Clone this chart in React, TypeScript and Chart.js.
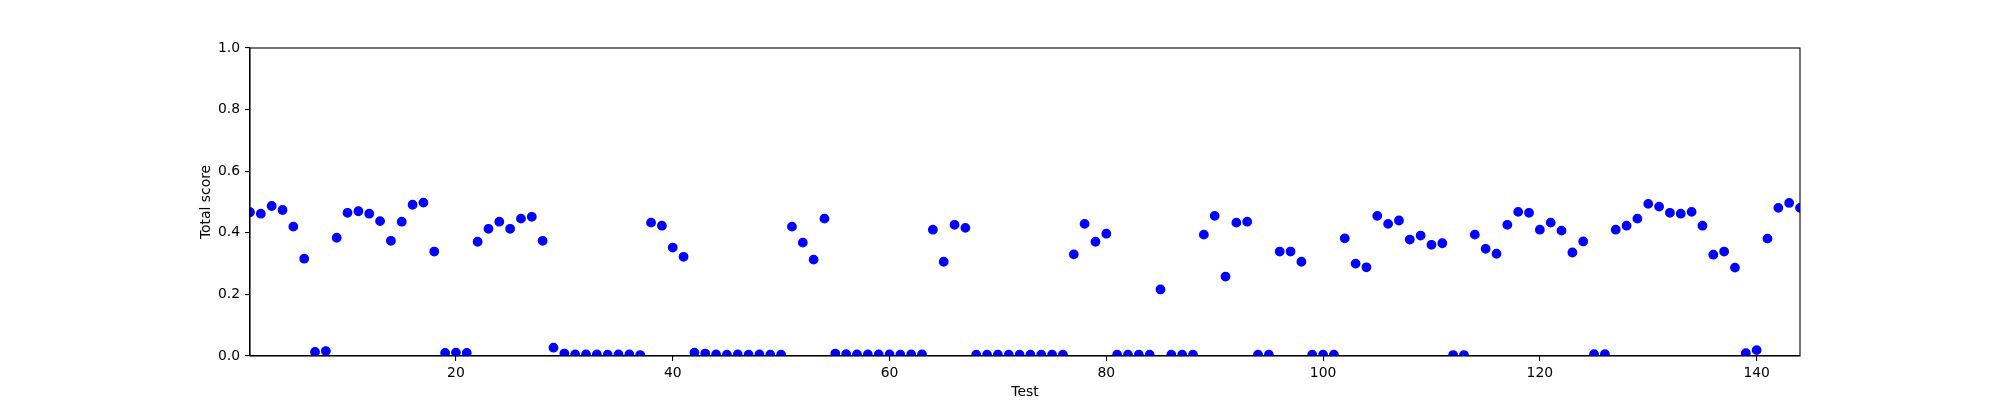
import { useEffect, useRef } from 'react';
import { Chart, registerables } from 'chart.js';
Chart.register(...registerables);

// total score per test, tests numbered 1..144
const scores = [
  0.467, 0.462, 0.487, 0.474, 0.420, 0.316, 0.013, 0.016, 0.384, 0.465,
  0.470, 0.462, 0.438, 0.374, 0.436, 0.491, 0.498, 0.339, 0.010, 0.011,
  0.010, 0.371, 0.413, 0.436, 0.413, 0.446, 0.452, 0.374, 0.027, 0.008,
  0.005, 0.005, 0.005, 0.004, 0.005, 0.005, 0.003, 0.433, 0.423, 0.352,
  0.322, 0.011, 0.008, 0.005, 0.004, 0.005, 0.004, 0.005, 0.004, 0.004,
  0.420, 0.368, 0.313, 0.446, 0.008, 0.006, 0.005, 0.005, 0.005, 0.005,
  0.004, 0.005, 0.005, 0.410, 0.306, 0.426, 0.416, 0.004, 0.004, 0.004,
  0.004, 0.004, 0.004, 0.004, 0.004, 0.004, 0.330, 0.429, 0.371, 0.397,
  0.004, 0.004, 0.004, 0.004, 0.216, 0.004, 0.004, 0.004, 0.394, 0.455,
  0.258, 0.433, 0.436, 0.004, 0.004, 0.339, 0.339, 0.306, 0.004, 0.004,
  0.004, 0.382, 0.300, 0.288, 0.455, 0.429, 0.440, 0.378, 0.391, 0.361,
  0.366, 0.003, 0.003, 0.394, 0.348, 0.332, 0.426, 0.468, 0.465, 0.410,
  0.433, 0.407, 0.336, 0.372, 0.006, 0.006, 0.410, 0.423, 0.446, 0.494,
  0.485, 0.465, 0.462, 0.468, 0.423, 0.329, 0.339, 0.287, 0.009, 0.019,
  0.381, 0.481, 0.497, 0.481,
];
const tests = scores.map((_, i) => i + 1);

const xTicks = [20, 40, 60, 80, 100, 120, 140];
const yTicks = [0, 0.2, 0.4, 0.6, 0.8, 1.0];

const FONT = { family: 'DejaVu Sans', size: 13.9 };

const frame = {
  id: 'frame',
  afterDatasetsDraw(chart: any) {
    const { ctx, chartArea: a } = chart;
    ctx.save();
    ctx.strokeStyle = '#000';
    ctx.lineWidth = 1.1;
    ctx.strokeRect(a.left, a.top, a.right - a.left, a.bottom - a.top);
    ctx.restore();
  },
};

export default function App() {
  const ref = useRef<HTMLCanvasElement>(null);

  useEffect(() => {
    const chart = new Chart(ref.current!, {
      type: 'scatter',
      data: {
        datasets: [{
          data: tests.map((t, i) => ({ x: t, y: scores[i] })),
          backgroundColor: '#0000ff',
          borderColor: '#0000ff',
          pointRadius: 4.2,
          borderWidth: 1.4,
          clip: 0,
        }],
      },
      options: {
        animation: false,
        responsive: true,
        maintainAspectRatio: false,
        layout: { padding: { left: 0, top: 48, right: 200, bottom: 0 } },
        plugins: { legend: { display: false }, tooltip: { enabled: false } },
        scales: {
          x: {
            type: 'linear',
            min: 1,
            max: 144,
            afterBuildTicks: (s: any) => { s.ticks = xTicks.map(v => ({ value: v })); },
            afterFit: (s: any) => { s.height = 44; },
            ticks: { color: '#000', font: FONT, padding: 4, maxRotation: 0 },
            grid: { drawOnChartArea: false, drawTicks: true, tickLength: 5, color: '#000', lineWidth: 1.1 },
            border: { display: true, color: '#000', width: 1.1 },
            title: { display: true, text: 'Test', color: '#000', font: { ...FONT, lineHeight: 1 }, padding: { top: 0, bottom: 1 } },
          },
          y: {
            min: 0,
            max: 1,
            afterBuildTicks: (s: any) => { s.ticks = yTicks.map(v => ({ value: v })); },
            afterFit: (s: any) => { s.width = 250; },
            ticks: { color: '#000', font: FONT, padding: 5, callback: (v: any) => Number(v).toFixed(1) },
            grid: { drawOnChartArea: false, drawTicks: true, tickLength: 5, color: '#000', lineWidth: 1.1 },
            border: { display: true, color: '#000', width: 1.1 },
            title: { display: true, text: 'Total score', color: '#000', font: { ...FONT, lineHeight: 1 }, padding: { top: 199, bottom: 0 } },
          },
        },
      },
      plugins: [frame],
    });
    return () => { chart.destroy(); };
  }, []);

  return (
    <div style={{ position: 'absolute', left: 0, top: 0, width: 2000, height: 400, background: '#fff' }}>
      <canvas ref={ref} />
    </div>
  );
}
